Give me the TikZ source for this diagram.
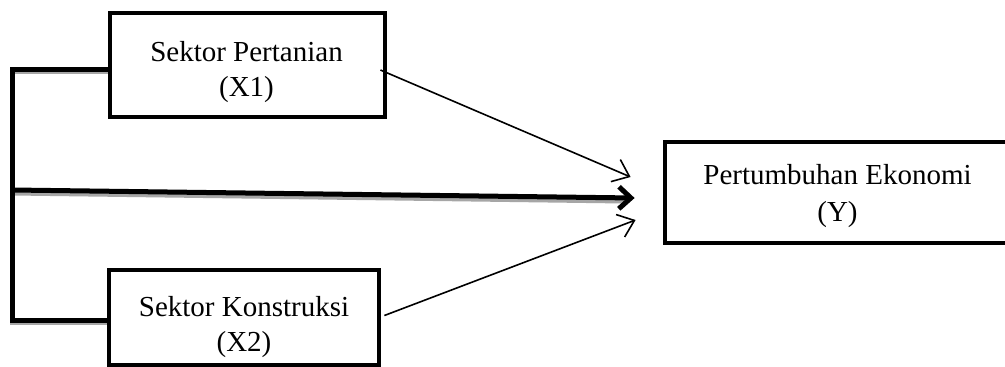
\documentclass[tikz,border=0pt]{standalone}
\usepackage{fontspec}
\setmainfont{Liberation Serif}
\usetikzlibrary{arrows.meta}
\begin{document}
\begin{tikzpicture}[x=1pt,y=-1pt,
  varbox/.style={draw=black,line width=4.8pt,fill=white,rectangle,inner sep=0pt},
  xlbl/.style={align=center,font=\fontsize{29}{35}\selectfont,inner sep=0pt},
  ylbl/.style={align=center,font=\fontsize{29}{37}\selectfont,inner sep=0pt},
  thickline/.style={line width=5pt,line cap=butt},
  shadowline/.style={line width=5pt,draw=black!35},
  thinarrow/.style={line width=1.6pt,-{Straight Barb[length=15pt,width=24pt,line width=1.6pt]}},
  bigarrow/.style={line width=5pt,-{Straight Barb[length=12pt,width=22pt,line width=5pt]}}]
\useasboundingbox (0,0) rectangle (1005,367);
\fill[white] (0,0) rectangle (1005,367);
\begin{scope}
\clip (0,0) rectangle (1005,367);
% boxes
\node[varbox,minimum width=275pt,minimum height=104pt] (X1) at (247.5,65) {};
\node[xlbl] (X1t) at (246.5,72) {Sektor Pertanian\\(X1)};
\node[varbox,minimum width=270pt,minimum height=95pt] (X2) at (244,317.5) {};
\node[xlbl] (X2t) at (244,327) {Sektor Konstruksi\\(X2)};
\node[varbox,minimum width=345pt,minimum height=101pt] (Ybox) at (837.5,192.5) {};
\node[ylbl] (Yt) at (837.5,196) {Pertumbuhan Ekonomi\\(Y)};
% bracket coordinates
\coordinate (tc) at (12,69);
\coordinate (bc) at (12,320);
\coordinate (mc) at (12,190);
\coordinate (mend) at ([xshift=-28pt,yshift=-5.5pt]Ybox.west);
% shadows
\draw[shadowline] ([yshift=-2.5pt]X1.west |- tc) -- ([xshift=2pt,yshift=-2.5pt]tc);
\draw[shadowline] ([yshift=-2.5pt]X2.west |- bc) -- ([xshift=-2pt,yshift=-2.5pt]bc);
\draw[shadowline] ([yshift=-3pt]mc) -- ([xshift=-10pt,yshift=-3pt]mend);
% bracket
\draw[thickline,line join=miter] (X1.west |- tc) -- (tc) -- (bc) -- (X2.west |- bc);
% arrows
\draw[bigarrow] (mc) -- (mend);
\draw[thinarrow] ([xshift=-7pt,yshift=-5pt]X1.east) -- ([xshift=-32pt,yshift=15.5pt]Ybox.west);
\draw[thinarrow] ([xshift=3pt,yshift=2pt]X2.east) -- ([xshift=-27pt,yshift=-27.5pt]Ybox.west);
\end{scope}
\end{tikzpicture}
\end{document}
